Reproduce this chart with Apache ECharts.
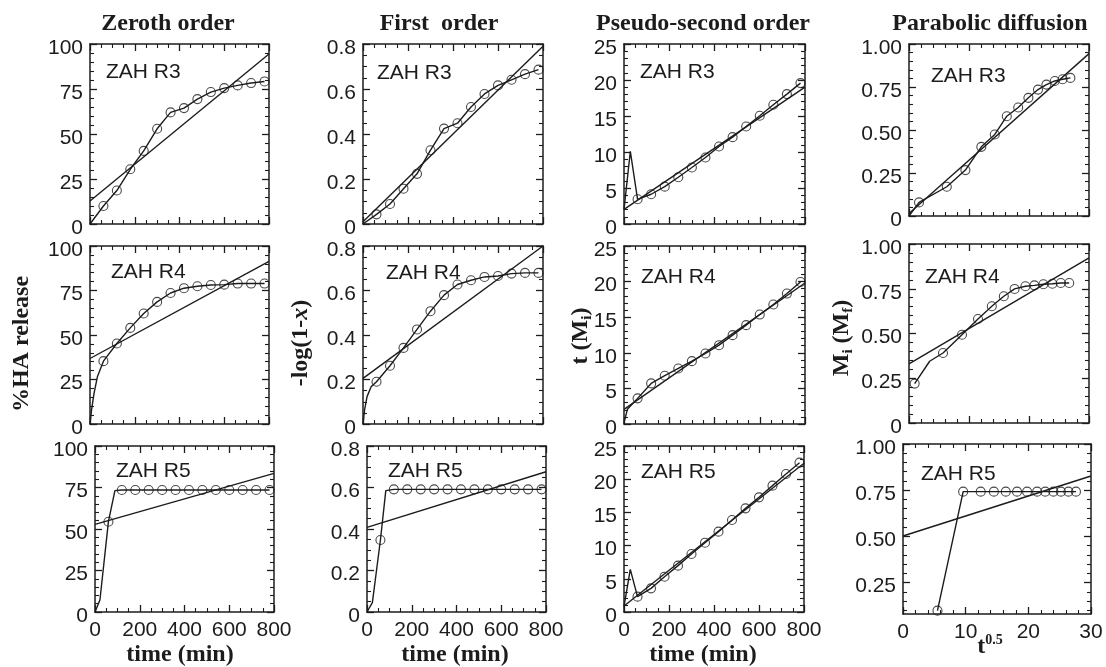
<!DOCTYPE html>
<html><head><meta charset="utf-8">
<script src="https://cdn.jsdelivr.net/npm/echarts@6/dist/echarts.min.js"></script>
<style>html,body{margin:0;padding:0;background:#fff}#c{width:1106px;height:667px}</style>
</head><body><div id="c"></div><script>
// ---------------- data ----------------
const timesMin = [60,120,180,240,300,360,420,480,540,600,660,720,780];
const zerothR3 = [10.0,18.6,30.4,40.6,52.9,62.0,64.4,69.4,73.3,75.5,77.0,78.3,79.2];
const zerothR4 = [35.3,45.2,54.0,62.1,68.6,73.6,76.3,77.4,78.1,78.3,78.9,78.9,78.9];
const zerothR5 = [54.4,73.5,73.5,73.5,73.5,73.5,73.5,73.5,73.5,73.5,73.5,73.5,73.5];
const firstR3 = [0.043,0.089,0.157,0.223,0.328,0.424,0.448,0.520,0.578,0.616,0.641,0.666,0.686];
const firstR4 = [0.190,0.262,0.342,0.425,0.507,0.579,0.627,0.646,0.661,0.665,0.676,0.679,0.679];
const firstR5 = [0.347,0.591,0.591,0.591,0.591,0.591,0.591,0.591,0.591,0.591,0.591,0.591,0.591];
const pseudoR3 = [3.43,4.13,5.19,6.49,7.84,9.23,10.76,12.06,13.54,15.03,16.56,18.04,19.57];
const pseudoR4 = [3.60,5.70,6.78,7.80,8.83,9.90,11.07,12.48,13.88,15.37,16.78,18.32,19.95];
const pseudoR5 = [2.31,3.56,5.32,6.98,8.73,10.44,12.10,13.86,15.61,17.27,19.03,20.78,22.49];
const rootTimeR3 = [1.67,6.3,9.4,12.05,14.3,16.3,18.2,19.9,21.5,22.9,24.3,25.6,26.9];
const parabolicR3 = [0.079,0.170,0.267,0.402,0.474,0.580,0.631,0.687,0.735,0.764,0.785,0.795,0.803];
const rootTimeR4 = [0.94,5.67,8.83,11.5,13.8,15.8,17.6,19.4,20.9,22.4,23.9,25.3,26.7];
const parabolicR4 = [0.220,0.391,0.493,0.581,0.652,0.708,0.749,0.764,0.769,0.775,0.778,0.782,0.782];
const rootTimeR5 = [5.5,9.6,12.4,14.5,16.4,18.2,19.8,21.4,22.7,24.0,25.2,26.4,27.6];
const parabolicR5 = [0.098,0.742,0.742,0.742,0.742,0.742,0.742,0.742,0.742,0.742,0.742,0.742,0.742];
// unmarked points on the connecting lines [x, y]
const zerothR3Extra = [[0,0]];
const zerothR4Extra = [[0,0],[7,7.9],[18,17.2],[33,26.5]];
const zerothR5Extra = [[0,0],[22,7.2],[89,73.1]];
const firstR3Extra = [[0,0]];
const firstR4Extra = [[0,0],[7,0.063],[18,0.123],[36,0.167]];
const firstR5Extra = [[0,0],[24,0.045],[84,0.585]];
const pseudoR3Extra = [[0,2.0],[28,10.1]];
const pseudoR4Extra = [[0,0.2],[15,2.06]];
const pseudoR5Extra = [[0,0.8],[28,6.43]];
const parabolicR3Extra = [[0,0]];
const parabolicR4Extra = [[3.44,0.345]];
const parabolicR5Extra = [];
// linear fits: [value at axis start, value at axis end]
const zerothR3Fit = [12.8, 94.4];
const zerothR4Fit = [36.8, 91.4];
const zerothR5Fit = [52.8, 83.5];
const firstR3Fit = [0.01, 0.79];
const firstR4Fit = [0.205, 0.80];
const firstR5Fit = [0.408, 0.676];
const pseudoR3Fit = [2.04, 19.0];
const pseudoR4Fit = [2.06, 19.8];
const pseudoR5Fit = [0.9, 22.4];
const parabolicR3Fit = [0.015, 0.944];
const parabolicR4Fit = [0.33, 0.922];
const parabolicR5Fit = [0.502, 0.827];
// tick labels
const timeTicks = [0,200,400,600,800];
const rootTimeTicks = [0,10,20,30];
const zerothTicks = [0,25,50,75,100];
const firstTicks = [0,0.2,0.4,0.6,0.8];
const pseudoTicks = [0,5,10,15,20,25];
const parabolicTicks = [0,0.25,0.5,0.75,1.0];
const parabolicR5Ticks = [0.25,0.5,0.75,1.0];
const sampleNames = ['ZAH R3','ZAH R4','ZAH R5'];
const columnTitles = ['Zeroth order','First  order','Pseudo-second order','Parabolic diffusion'];

// ---------------- layout / style ----------------
const SANS = '"Liberation Sans", Arial, sans-serif';
const SERIF = '"Liberation Serif", "Times New Roman", serif';
const INK = '#1c1c1c';
const TICK = '#1c1c1c';
const boxes = [
  [{l:90,t:44,w:179,h:180},{l:363,t:44,w:180,h:180},{l:624,t:44,w:181,h:180},{l:909,t:44,w:180,h:172}],
  [{l:90,t:246,w:179,h:178},{l:363,t:246,w:180,h:178},{l:624,t:246,w:181,h:178},{l:909,t:244,w:180,h:179}],
  [{l:95,t:446,w:179,h:166},{l:367,t:446,w:179,h:166},{l:624,t:446,w:180,h:166},{l:903,t:444,w:188,h:170}]
];
const labelPos = [
  [[106,72],[377,73],[640,72],[931,76]],
  [[111,272],[386,273],[641,277],[925,277]],
  [[116,471],[388,471],[641,472],[921,474]]
];
const colX = [timeTicks,timeTicks,timeTicks,rootTimeTicks];
const colXMinor = [4,4,4,5];
const colY = [zerothTicks,firstTicks,pseudoTicks,parabolicTicks];
const colYMinor = [5,4,5,5];
const fmtPlain = v => (v === 0 ? '0' : String(+v.toFixed(2)));
const fmt2 = v => (v === 0 ? '0' : v.toFixed(2));
const colYFmt = [fmtPlain, fmtPlain, fmtPlain, fmt2];

const panels = [
  {r:0,c:0,xs:timesMin,ys:zerothR3,extra:zerothR3Extra,fit:zerothR3Fit},
  {r:0,c:1,xs:timesMin,ys:firstR3,extra:firstR3Extra,fit:firstR3Fit},
  {r:0,c:2,xs:timesMin,ys:pseudoR3,extra:pseudoR3Extra,fit:pseudoR3Fit},
  {r:0,c:3,xs:rootTimeR3,ys:parabolicR3,extra:parabolicR3Extra,fit:parabolicR3Fit},
  {r:1,c:0,xs:timesMin,ys:zerothR4,extra:zerothR4Extra,fit:zerothR4Fit},
  {r:1,c:1,xs:timesMin,ys:firstR4,extra:firstR4Extra,fit:firstR4Fit},
  {r:1,c:2,xs:timesMin,ys:pseudoR4,extra:pseudoR4Extra,fit:pseudoR4Fit},
  {r:1,c:3,xs:rootTimeR4,ys:parabolicR4,extra:parabolicR4Extra,fit:parabolicR4Fit},
  {r:2,c:0,xs:timesMin,ys:zerothR5,extra:zerothR5Extra,fit:zerothR5Fit},
  {r:2,c:1,xs:timesMin,ys:firstR5,extra:firstR5Extra,fit:firstR5Fit},
  {r:2,c:2,xs:timesMin,ys:pseudoR5,extra:pseudoR5Extra,fit:pseudoR5Fit},
  {r:2,c:3,xs:rootTimeR5,ys:parabolicR5,extra:parabolicR5Extra,fit:parabolicR5Fit,yTicks:parabolicR5Ticks,yMin:0.08}
];

function makeAxis(gi, pos, ticks, minorSplit, showLabel, fmt, rangeMin, isY) {
  const custom = rangeMin !== undefined;
  const ax = {
    type:'value', gridIndex:gi, position:pos,
    min: custom ? rangeMin : ticks[0], max: ticks[ticks.length-1],
    axisLine:{show:true,onZero:false,lineStyle:{color:INK,width:1.5}},
    axisTick:{show:true,inside:true,length:7,lineStyle:{color:TICK,width:1.3}},
    minorTick:{show:!custom,splitNumber:minorSplit,length:4,lineStyle:{color:TICK,width:1.1}},
    splitLine:{show:false}, minorSplitLine:{show:false},
    axisLabel:{show:showLabel,fontFamily:SANS,fontSize:21,color:INK,margin:isY?7:8,formatter:fmt,
      showMinLabel:true,showMaxLabel:true,hideOverlap:false}
  };
  if (isY && showLabel) { ax.axisLabel.verticalAlign = 'top'; ax.axisLabel.lineHeight = 8; }
  if (custom) { ax.axisTick.customValues = ticks; ax.axisLabel.customValues = ticks; }
  else ax.interval = +(ticks[1]-ticks[0]).toFixed(6);
  return ax;
}

const grids=[], xAxes=[], yAxes=[], series=[], graphics=[];
panels.forEach((p) => {
  const b = boxes[p.r][p.c];
  const xt = colX[p.c];
  const yt = p.yTicks || colY[p.c];
  // grid A: bottom + left axes, labels, data
  const gA = grids.length;
  grids.push({left:b.l, top:b.t, width:b.w, height:b.h});
  const xi = xAxes.length, yi = yAxes.length;
  xAxes.push(makeAxis(gA,'bottom',xt,colXMinor[p.c],p.r===2,fmtPlain,undefined,false));
  yAxes.push(makeAxis(gA,'left',yt,colYMinor[p.c],true,colYFmt[p.c],p.yMin,true));
  // grid B: mirrored top + right axes (ticks only)
  const gB = grids.length;
  grids.push({left:b.l, top:b.t, width:b.w, height:b.h});
  xAxes.push(makeAxis(gB,'top',xt,colXMinor[p.c],false,fmtPlain,undefined,false));
  yAxes.push(makeAxis(gB,'right',yt,colYMinor[p.c],false,colYFmt[p.c],p.yMin,true));
  if (p.yMin !== undefined) {
    const minors = [];
    for (let k = Math.ceil(p.yMin/0.05); k*0.05 <= 1.0001; k++) {
      const v = +(k*0.05).toFixed(2);
      if (yt.indexOf(v) < 0 && v > p.yMin) minors.push(v);
    }
    ['left','right'].forEach(pos => {
      const g = grids.length;
      grids.push({left:b.l, top:b.t, width:b.w, height:b.h});
      xAxes.push({type:'value',gridIndex:g,min:xt[0],max:xt[xt.length-1],show:false});
      yAxes.push({type:'value',gridIndex:g,position:pos,min:p.yMin,max:yt[yt.length-1],
        axisLine:{show:false,onZero:false},axisLabel:{show:false},splitLine:{show:false},
        axisTick:{show:true,inside:true,length:4,customValues:minors,lineStyle:{color:TICK,width:1.1}}});
    });
  }
  const x0 = xt[0], x1 = xt[xt.length-1];
  series.push({type:'line',xAxisIndex:xi,yAxisIndex:yi,data:[[x0,p.fit[0]],[x1,p.fit[1]]],
    showSymbol:false,silent:true,lineStyle:{color:INK,width:1.4},z:2});
  const marked = p.xs.map((x,i)=>[x,p.ys[i]]);
  const pts = p.extra.concat(marked).sort((a,b)=>a[0]-b[0]);
  series.push({type:'line',xAxisIndex:xi,yAxisIndex:yi,data:pts,showSymbol:false,silent:true,
    lineStyle:{color:INK,width:1.4},z:3});
  series.push({type:'scatter',xAxisIndex:xi,yAxisIndex:yi,data:marked,symbol:'circle',symbolSize:9,silent:true,
    itemStyle:{color:'rgba(0,0,0,0)',borderColor:INK,borderWidth:1.1},z:4});
  const lp = labelPos[p.r][p.c];
  graphics.push({type:'text',x:lp[0],y:lp[1],silent:true,
    style:{text:sampleNames[p.r],fontFamily:SANS,fontSize:21,fill:INK,align:'left',verticalAlign:'middle'}});
});

const titleX = [168,439,703,990];
columnTitles.forEach((t,i)=>graphics.push({type:'text',x:titleX[i],y:24,silent:true,
  style:{text:t,fontFamily:SERIF,fontWeight:'bold',fontSize:24,fill:INK,align:'center',verticalAlign:'middle'}}));
const richY = {
  a:{fontFamily:SERIF,fontWeight:'bold',fontSize:24,fill:INK,lineHeight:28},
  i:{fontFamily:SERIF,fontWeight:'bold',fontStyle:'italic',fontSize:24,fill:INK,lineHeight:28},
  s:{fontFamily:SERIF,fontWeight:'bold',fontSize:15,fill:INK,lineHeight:15,verticalAlign:'bottom'},
  p:{fontFamily:SERIF,fontWeight:'bold',fontSize:14,fill:INK,lineHeight:14,verticalAlign:'top'}
};
const yTitles = [
  {x:22,y:344,text:'{a|%HA release}'},
  {x:301,y:343,text:'{a|-log(1-}{i|x}{a|)}'},
  {x:581,y:336,text:'{a|t (M}{s|i}{a|)}'},
  {x:842,y:338,text:'{a|M}{s|i}{a| (M}{s|f}{a|)}'}
];
yTitles.forEach(t=>graphics.push({type:'text',x:t.x,y:t.y,rotation:Math.PI/2,silent:true,
  style:{text:t.text,rich:richY,align:'center',verticalAlign:'middle'}}));
const xTitleX = [180,455,703];
xTitleX.forEach(x=>graphics.push({type:'text',x:x,y:655,silent:true,
  style:{text:'time (min)',fontFamily:SERIF,fontWeight:'bold',fontSize:24,fill:INK,align:'center',verticalAlign:'middle'}}));
graphics.push({type:'text',x:990,y:647,silent:true,
  style:{text:'{a|t}{p|0.5}',rich:richY,align:'center',verticalAlign:'middle'}});

const chart = echarts.init(document.getElementById('c'), null, {renderer:'canvas'});
chart.setOption({
  animation:false,
  backgroundColor:'#fff',
  grid:grids, xAxis:xAxes, yAxis:yAxes, series:series, graphic:graphics
});
</script></body></html>
